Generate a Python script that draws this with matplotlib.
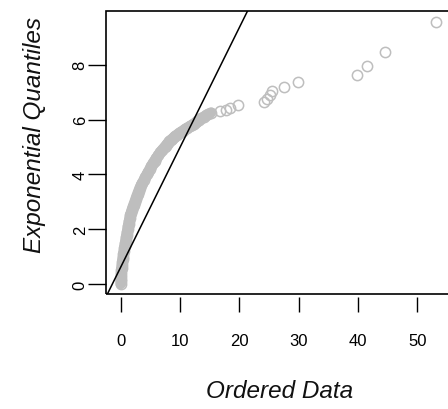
import matplotlib
matplotlib.use("Agg")
import matplotlib.pyplot as plt
from matplotlib.patches import Rectangle

# Exponential QQ plot: ordered data against exponential quantiles
exp_quantiles = [0.0, 0.1, 0.2, 0.3, 0.4, 0.5, 0.6, 0.7, 0.8, 0.9,
                 1.0, 1.1, 1.2, 1.3, 1.4, 1.5, 1.6, 1.7, 1.8, 1.9,
                 2.0, 2.1, 2.2, 2.3, 2.4, 2.5, 2.6, 2.7, 2.8, 2.9,
                 3.0, 3.1, 3.2, 3.3, 3.4, 3.5, 3.6, 3.7, 3.8, 3.9,
                 4.0, 4.1, 4.2, 4.3, 4.4, 4.5, 4.6, 4.7, 4.8, 4.9,
                 5.0, 5.05, 5.1, 5.15, 5.2, 5.25, 5.3, 5.35, 5.4, 5.45,
                 5.5, 5.55, 5.6, 5.65, 5.7, 5.75, 5.8, 5.85, 5.9, 5.95,
                 6.0, 6.05, 6.1, 6.15, 6.2, 6.25,
                 6.30, 6.36, 6.43, 6.53, 6.65, 6.76, 6.88, 7.03, 7.2,
                 7.37, 7.64, 7.96, 8.47, 9.56]
ordered_data = [0.0, 0.01, 0.02, 0.04, 0.07, 0.10, 0.15, 0.21, 0.27, 0.33,
                0.40, 0.46, 0.53, 0.60, 0.67, 0.75, 0.83, 0.91, 0.99, 1.07,
                1.15, 1.23, 1.32, 1.41, 1.50, 1.60, 1.73, 1.87, 2.02, 2.18,
                2.35, 2.51, 2.67, 2.84, 3.02, 3.20, 3.43, 3.66, 3.90, 4.15,
                4.40, 4.65, 4.90, 5.15, 5.42, 5.70, 6.02, 6.35, 6.68, 7.03,
                7.40, 7.6, 7.8, 8.0, 8.2, 8.4, 8.7, 8.95, 9.2, 9.5,
                9.85, 10.15, 10.5, 10.85, 11.2, 11.6, 12.0, 12.3, 12.7, 12.9,
                13.2, 13.6, 14.0, 14.4, 14.8, 15.2,
                16.8, 17.7, 18.5, 19.7, 24.2, 24.6, 25.1, 25.5, 27.5,
                29.9, 39.8, 41.5, 44.5, 53.2]
# the first points overlap so much that they form a solid band
n_dense = 76

# reference line
line_intercept = 0.615
line_slope = 0.437

x_ticks = [0, 10, 20, 30, 40, 50]
y_ticks = [0, 2, 4, 6, 8]

plt.rcParams['font.family'] = ['Liberation Sans', 'DejaVu Sans']

fig = plt.figure(figsize=(4.48, 4.10), dpi=100)
ax = fig.add_axes([106/448, 115/410, 348/448, 283/410])

grey = '#bebebe'
ax.plot(ordered_data[:n_dense], exp_quantiles[:n_dense], color=grey,
        lw=7.6, solid_capstyle='round', solid_joinstyle='round')
ax.plot(ordered_data, exp_quantiles, linestyle='none', marker='o',
        markersize=7.4, markerfacecolor='none', markeredgecolor=grey,
        markeredgewidth=1.1)
ax.axline((0, line_intercept), slope=line_slope, color='black', lw=1.1)

ax.set_xlim(-2.48, 56.2)
ax.set_ylim(-0.365, 9.96)

# box drawn separately so x ticks can sit slightly below it
for s in ax.spines.values():
    s.set_visible(False)
ax.spines['bottom'].set_position(('outward', 2.2))
ax.add_patch(Rectangle((0, 0), 1, 1, transform=ax.transAxes, fill=False,
                       edgecolor='black', lw=1.2, clip_on=False))

ax.set_xticks(x_ticks)
ax.set_yticks(y_ticks)
ax.tick_params(axis='x', length=10.8, width=1.0, pad=15, labelsize=12)
ax.tick_params(axis='y', length=12.7, width=1.0, pad=0.5, labelsize=12,
               labelrotation=90)
for lab in ax.get_yticklabels():
    lab.set_verticalalignment('center')

fig.text(280/448, 1 - 391.5/410, 'Ordered Data', ha='center', va='center',
         fontsize=17.5, fontstyle='italic', color='#111111')
fig.text(35/448, 1 - 135/410, 'Exponential Quantiles', ha='center',
         va='center', rotation=90, fontsize=17.5, fontstyle='italic',
         color='#111111')

fig.savefig('out.png', dpi=100)
